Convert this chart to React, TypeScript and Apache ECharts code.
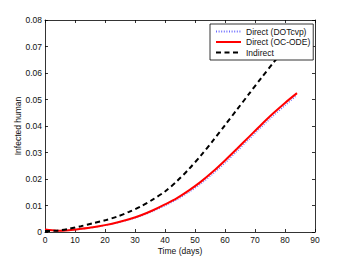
import React, { useEffect, useRef } from "react";
import * as echarts from "echarts";

const days = [0, 4, 8, 12, 16, 20, 24, 28, 32, 36, 40, 44, 48, 52, 56, 60, 64, 68, 72, 76, 80, 84];
const directDOTcvp = [0.0008, 0.0005, 0.0007, 0.0011, 0.0017, 0.0025, 0.0034, 0.0046, 0.006, 0.0078, 0.0099, 0.0122, 0.015, 0.0182, 0.0219, 0.026, 0.0304, 0.0349, 0.0394, 0.0437, 0.0477, 0.0516];
const directOCODE = [0.0009, 0.0005, 0.0007, 0.0012, 0.0018, 0.0026, 0.0036, 0.0048, 0.0063, 0.0082, 0.0104, 0.0128, 0.0157, 0.019, 0.0228, 0.027, 0.0314, 0.0359, 0.0404, 0.0447, 0.0487, 0.0524];
const indirect = [0.0004, 0.0005, 0.0012, 0.0022, 0.0033, 0.0044, 0.0058, 0.0076, 0.0097, 0.0123, 0.0153, 0.0192, 0.0238, 0.0289, 0.0345, 0.0403, 0.0462, 0.0521, 0.058, 0.0637, 0.0693, 0.0748];
const seriesNames = ["Direct (DOTcvp)", "Direct (OC-ODE)", "Indirect"];
const xAxisName = "Time (days)";
const yAxisName = "Infected human";

const font = "Liberation Sans, Arial, Helvetica, sans-serif";

export default function App() {
  const ref = useRef<HTMLDivElement>(null);
  useEffect(() => {
    if (!ref.current) return;
    const chart = echarts.init(ref.current, undefined, { renderer: "svg" });
    const pairs = (vals: number[]) => days.map((d, i) => [d, vals[i]]);
    const axisCommon = {
      axisLine: { show: true, onZero: false, lineStyle: { color: "#000", width: 0.8 } },
      axisTick: { show: true, inside: true, length: 3, lineStyle: { color: "#000", width: 0.8 } },
      splitLine: { show: false },
    };
    chart.setOption({
      animation: false,
      backgroundColor: "#fff",
      textStyle: { fontFamily: font },
      grid: { left: 45, right: 33, top: 20, bottom: 29, containLabel: false },
      legend: {
        orient: "vertical",
        left: 210,
        top: 24,
        z: 20,
        data: seriesNames,
        backgroundColor: "#fff",
        borderColor: "#000",
        borderWidth: 0.8,
        borderRadius: 0,
        padding: [3, 3, 3, 5],
        itemGap: 1.5,
        itemWidth: 25,
        itemHeight: 8,
        itemStyle: { opacity: 0 },
        textStyle: { fontSize: 8.5, color: "#111", fontFamily: font },
      },
      xAxis: [
        {
          type: "value",
          min: 0,
          max: 90,
          interval: 10,
          name: xAxisName,
          nameLocation: "middle",
          nameGap: 14,
          nameMoveOverlap: false,
          nameTextStyle: { fontSize: 8.5, color: "#111", fontFamily: font },
          axisLabel: { fontSize: 8.5, color: "#111", margin: 3, fontFamily: font },
          ...axisCommon,
        },
        {
          type: "value",
          position: "top",
          min: 0,
          max: 90,
          interval: 10,
          axisLabel: { show: false },
          ...axisCommon,
        },
      ],
      yAxis: [
        {
          type: "value",
          min: 0,
          max: 0.08,
          interval: 0.01,
          name: yAxisName,
          nameLocation: "middle",
          nameGap: 23,
          nameMoveOverlap: false,
          nameTextStyle: { fontSize: 8.5, color: "#111", fontFamily: font },
          axisLabel: {
            fontSize: 8.5,
            color: "#111",
            margin: 3,
            fontFamily: font,
            formatter: (v: number) => String(+v.toFixed(2)),
          },
          ...axisCommon,
        },
        {
          type: "value",
          position: "right",
          min: 0,
          max: 0.08,
          interval: 0.01,
          axisLabel: { show: false },
          ...axisCommon,
        },
      ],
      series: [
        {
          name: seriesNames[0],
          type: "line",
          data: pairs(directDOTcvp),
          smooth: 0.3,
          symbol: "none",
          lineStyle: { color: "#6b6bff", width: 1.2, type: [1, 1.6] },
          itemStyle: { color: "#6b6bff" },
          z: 2,
        },
        {
          name: seriesNames[1],
          type: "line",
          data: pairs(directOCODE),
          smooth: 0.3,
          symbol: "none",
          lineStyle: { color: "#ff0000", width: 2 },
          itemStyle: { color: "#ff0000" },
          z: 2,
        },
        {
          name: seriesNames[2],
          type: "line",
          data: pairs(indirect),
          smooth: 0.3,
          symbol: "none",
          lineStyle: { color: "#000", width: 2, type: [5, 3.5] },
          itemStyle: { color: "#000" },
          z: 2,
        },
      ],
    });
    return () => chart.dispose();
  }, []);
  return (
    <div
      ref={ref}
      style={{ position: "fixed", left: 0, top: 0, width: 348, height: 261, background: "#fff" }}
    />
  );
}
